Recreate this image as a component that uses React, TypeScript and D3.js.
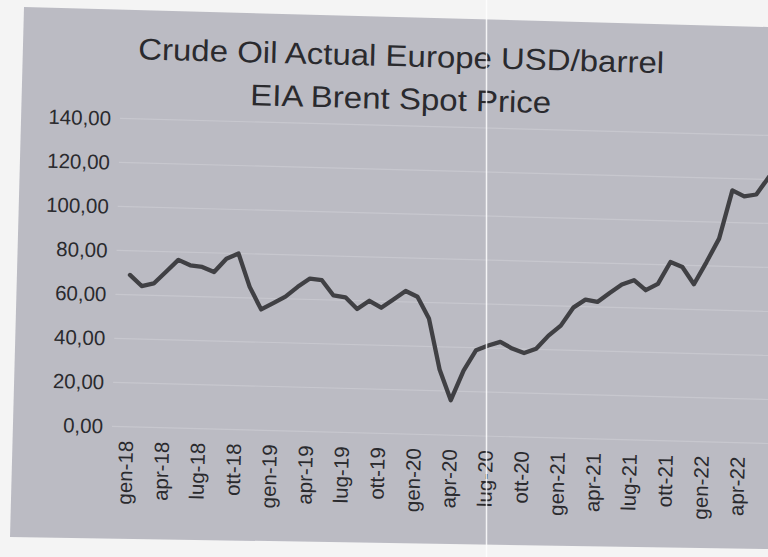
import React, { useEffect } from 'react';
import * as d3 from 'd3';

const months: string[] = [
  'gen-18', 'feb-18', 'mar-18', 'apr-18', 'mag-18', 'giu-18', 'lug-18', 'ago-18', 'set-18', 'ott-18', 'nov-18', 'dic-18',
  'gen-19', 'feb-19', 'mar-19', 'apr-19', 'mag-19', 'giu-19', 'lug-19', 'ago-19', 'set-19', 'ott-19', 'nov-19', 'dic-19',
  'gen-20', 'feb-20', 'mar-20', 'apr-20', 'mag-20', 'giu-20', 'lug-20', 'ago-20', 'set-20', 'ott-20', 'nov-20', 'dic-20',
  'gen-21', 'feb-21', 'mar-21', 'apr-21', 'mag-21', 'giu-21', 'lug-21', 'ago-21', 'set-21', 'ott-21', 'nov-21', 'dic-21',
  'gen-22', 'feb-22', 'mar-22', 'apr-22', 'mag-22', 'giu-22',
];

const brent: number[] = [
  69.0, 64.1, 65.4, 70.9, 76.4, 74.1, 73.5, 71.3, 77.5, 80.0, 65.0, 54.9,
  57.9, 61.0, 65.6, 69.5, 68.9, 62.1, 61.4, 56.2, 60.1, 57.1, 61.0, 65.0,
  62.5, 52.8, 29.7, 15.9, 29.5, 38.9, 41.2, 43.0, 40.1, 38.2, 40.3, 46.4,
  51.1, 59.4, 63.2, 62.3, 66.5, 70.5, 72.6, 68.2, 71.2, 81.3, 79.2, 71.5,
  81.7, 92.5, 114.6, 112.0, 113.0, 121.0,
];

const yTicks: number[] = [0, 20, 40, 60, 80, 100, 120, 140];
const titleLines: string[] = ['Crude Oil Actual Europe USD/barrel', 'EIA Brent Spot Price'];

const FONT = "'Liberation Sans', Arial, Helvetica, sans-serif";

export default function App() {
  useEffect(() => {
    document.body.style.margin = '0';
  }, []);

  const x = d3.scalePoint<string>().domain(months).range([126, 762]);
  const y = d3.scaleLinear().domain([0, 140]).range([426, 118]);
  const line = d3
    .line<number>()
    .x((_, i) => x(months[i]) as number)
    .y((d) => y(d));
  const tickLabels = months.filter((_, i) => i % 3 === 0);
  const fmt = (v: number) => v.toFixed(2).replace('.', ',');

  return (
    <svg width={768} height={557} style={{ display: 'block', position: 'absolute', left: 0, top: 0 }}>
      <rect width={768} height={557} fill="#f4f4f4" />
      <polygon points="24,7 768,27 768,549 10,537" fill="#bbbbc3" />
      <g transform="rotate(1.5 100 426)" fontFamily={FONT} fill="#2a2a2e">
        {yTicks.map((v) => (
          <line key={'g' + v} x1={112} x2={820} y1={y(v)} y2={y(v)} stroke="#d4d4da" strokeWidth={1.2} opacity={0.5} />
        ))}
        <text x={128.4} y={58.5} fontSize={30} textLength={526} lengthAdjust="spacingAndGlyphs">
          {titleLines[0]}
        </text>
        <text x={241.6} y={101.4} fontSize={30} textLength={301} lengthAdjust="spacingAndGlyphs">
          {titleLines[1]}
        </text>
        {yTicks.map((v) => (
          <text key={'y' + v} x={103} y={y(v) + 7.3} fontSize={20.5} textAnchor="end">
            {fmt(v)}
          </text>
        ))}
        {tickLabels.map((m) => (
          <text
            key={m}
            transform={`translate(${x(m)},440) rotate(-90)`}
            fontSize={20.5}
            textAnchor="end"
            dy="0.36em"
          >
            {m}
          </text>
        ))}
        <path d={line(brent) ?? ''} fill="none" stroke="#404044" strokeWidth={4.3} strokeLinejoin="round" strokeLinecap="round" />
      </g>
      <line x1={486.5} x2={486.5} y1={0} y2={557} stroke="#ffffff" strokeWidth={1.5} opacity={0.85} />
    </svg>
  );
}
